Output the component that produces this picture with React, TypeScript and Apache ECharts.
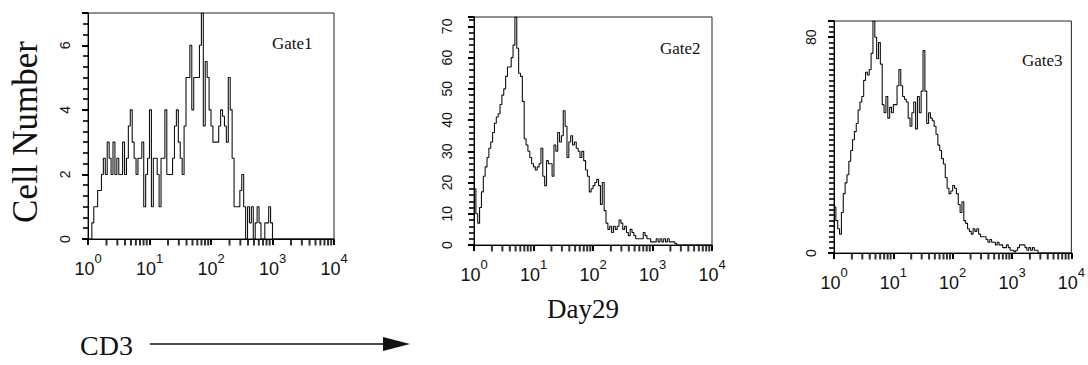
import React, { useEffect, useRef } from 'react';
import * as echarts from 'echarts';

// histogram channels: 32 bins per decade, 4 decades (10^0 .. 10^4)
const BINS_PER_DECADE = 32;

const gate1Counts = [
  0, 0, 0.5, 1, 1, 1.5, 1.5, 2, 2.5, 2,
  3, 2.5, 2, 3, 2, 2.5, 2, 2, 3, 2,
  2.5, 3.5, 4, 3, 2.5, 2, 2.5, 2.5, 3, 1,
  2, 2.5, 4, 1, 2.5, 2.5, 2, 1, 2.5, 2.5,
  4, 2, 2, 2, 2.5, 3.5, 4, 3, 2.5, 2,
  3.5, 5, 5, 6, 4, 5, 5, 5, 6, 7,
  3.5, 5.5, 5, 4, 3.5, 3, 3, 3, 3.5, 4,
  3.8, 3.5, 3, 5, 4, 2.5, 1, 1, 1, 1.5,
  2, 1, 0, 1, 0.5, 1, 0, 0.5, 1, 0.5,
  0, 0, 0.5, 0.5, 1, 0.5, 0, 0, 0, 0,
  0, 0, 0, 0, 0, 0, 0, 0, 0, 0,
  0, 0, 0, 0, 0, 0, 0, 0, 0, 0,
  0, 0, 0, 0, 0, 0, 0, 0,
];

const gate2Counts = [
  18, 10, 7, 12, 17, 22, 25, 28, 31, 33,
  36, 39, 41, 42, 45, 48, 50, 54, 57, 57,
  60, 64, 73, 63, 55, 54, 46, 34, 32, 30,
  28, 26, 25, 24, 25, 26, 31, 22, 19, 27,
  26, 26, 22, 32, 30, 36, 33, 35, 43, 38,
  28, 33, 35, 32, 33, 31, 30, 28, 30, 27,
  24, 22, 17, 18, 19, 20, 21, 19, 13, 20,
  11, 7, 5, 6, 4, 6, 5, 6, 8, 7,
  5, 6, 4, 3, 5, 4, 3, 2, 2, 2,
  2, 4, 3, 2, 2, 1, 1, 1, 2, 1,
  2, 1, 2, 1, 2, 1, 1, 1, 0.5, 0,
  0, 0, 0, 0, 0, 0, 0, 0, 0, 0,
  0, 0, 0, 0, 0, 0, 0, 0,
];

const gate3Counts = [
  17, 12, 9, 7, 15, 22, 26, 29, 34, 38,
  42, 45, 48, 53, 56, 58, 64, 67, 66, 68,
  74, 86, 80, 72, 78, 70, 55, 52, 58, 50,
  54, 52, 55, 55, 62, 68, 62, 58, 57, 56,
  50, 47, 52, 56, 46, 58, 52, 60, 75, 60,
  48, 52, 50, 49, 47, 44, 40, 38, 35, 33,
  28, 24, 22, 23, 25, 24, 22, 18, 15, 19,
  12, 11, 9, 8, 7, 9, 8, 9, 7, 6,
  6, 6, 5, 4, 5, 4, 4, 3, 4, 3,
  3, 2, 2, 3, 2, 1, 1, 0.5, 1, 2,
  3, 3, 3, 2, 1, 2, 1, 2, 1, 1,
  0, 0, 0, 0, 0, 0, 0, 0, 0, 0,
  0, 0, 0, 0, 0, 0, 0, 0,
];

const gateNames = ['Gate1', 'Gate2', 'Gate3'];
const yMax = [7, 73, 86];
const yInterval = [2, 10, 80];
const yMinorSplit = [6, 5, 40];
const xMin = 1;
const xMax = 10000;
const minorMultipliers = [2, 3, 4, 5, 6, 7, 8, 9];
const decades = [1, 10, 100, 1000];

const grids = [
  { left: 88, top: 13, width: 246, height: 226 },
  { left: 474, top: 17, width: 238, height: 228 },
  { left: 834, top: 21, width: 241, height: 232 },
];
const yLabelMargin = [16, 20, 16];
const gatePos = [
  [272, 43],
  [660, 48],
  [1022, 60],
];

const INK = '#111';
const TICK = '#000';
const SANS = '"Liberation Sans", Arial, sans-serif';
const SERIF = '"Liberation Serif", "Times New Roman", serif';

function stepData(counts: number[]) {
  const pts: number[][] = counts.map((c, i) => [Math.pow(10, i / BINS_PER_DECADE), c]);
  pts.push([Math.pow(10, counts.length / BINS_PER_DECADE), counts[counts.length - 1]]);
  return pts;
}

const minorTickData: number[][] = [];
decades.forEach((d) => minorMultipliers.forEach((m) => minorTickData.push([m * d, 0])));

export default function App() {
  const ref = useRef<HTMLDivElement>(null);
  const overlayRef = useRef<HTMLDivElement>(null);

  useEffect(() => {
    if (!ref.current || !overlayRef.current) return;
    const chart = echarts.init(ref.current, null, { renderer: 'svg' });
    const overlay = echarts.init(overlayRef.current, null, { renderer: 'svg' });
    const allCounts = [gate1Counts, gate2Counts, gate3Counts];

    const xAxis = grids.map((_, i) => ({
      type: 'log',
      gridIndex: i,
      min: xMin,
      max: xMax,
      splitLine: { show: false },
      axisLine: { show: true, lineStyle: { color: TICK } },
      axisTick: { show: true, length: 6, lineStyle: { color: TICK, width: 2 } },
      axisLabel: {
        margin: 13,
        formatter: (v: number) => `{b|10}{s|${Math.round(Math.log10(v))}}`,
        rich: {
          b: { fontSize: 18, lineHeight: 26, verticalAlign: 'bottom', fontFamily: SANS, color: INK },
          s: { fontSize: 13, lineHeight: 10, verticalAlign: 'top', fontFamily: SANS, color: INK },
        },
      },
    }));

    const yAxis = grids.map((_, i) => ({
      type: 'value',
      gridIndex: i,
      min: 0,
      max: yMax[i],
      interval: yInterval[i],
      splitLine: { show: false },
      axisLine: { show: true, lineStyle: { color: TICK } },
      axisTick: { show: true, length: 6, lineStyle: { color: TICK, width: 2 } },
      minorTick: { show: true, splitNumber: yMinorSplit[i], length: 5, lineStyle: { color: TICK, width: 1.6 } },
      axisLabel: {
        rotate: 90,
        margin: yLabelMargin[i],
        fontSize: 14,
        fontFamily: SANS,
        color: INK,
        showMaxLabel: false,
      },
    }));

    const series: any[] = [];
    allCounts.forEach((counts, i) => {
      series.push({
        type: 'line',
        name: gateNames[i],
        xAxisIndex: i,
        yAxisIndex: i,
        data: stepData(counts),
        step: 'end',
        symbol: 'none',
        lineStyle: { color: INK, width: 1.1 },
      });
      series.push({
        type: 'scatter',
        xAxisIndex: i,
        yAxisIndex: i,
        data: minorTickData,
        symbol: 'rect',
        symbolSize: [2, 6],
        symbolOffset: [0, 3.5],
        itemStyle: { color: TICK },
        clip: false,
      });
    });

    chart.setOption({
      animation: false,
      grid: grids.map((g) => ({ ...g, show: true, borderColor: '#222' })),
      xAxis,
      yAxis,
      series,
    });

    const graphic: any[] = [
      {
        type: 'text',
        x: 25,
        y: 132,
        rotation: Math.PI / 2,
        style: {
          text: 'Cell Number',
          fontSize: 35,
          fontFamily: SERIF,
          fill: INK,
          textAlign: 'center',
          textVerticalAlign: 'middle',
        },
      },
      {
        type: 'text',
        x: 80,
        y: 345,
        style: { text: 'CD3', fontSize: 28, fontFamily: SERIF, fill: INK, textAlign: 'left', textVerticalAlign: 'middle' },
      },
      {
        type: 'text',
        x: 583,
        y: 309,
        style: { text: 'Day29', fontSize: 27, fontFamily: SERIF, fill: INK, textAlign: 'center', textVerticalAlign: 'middle' },
      },
      {
        type: 'line',
        shape: { x1: 150, y1: 344, x2: 386, y2: 344 },
        style: { stroke: INK, lineWidth: 1.5 },
      },
      {
        type: 'polygon',
        shape: { points: [[383, 337], [410, 344], [383, 351]] },
        style: { fill: INK },
      },
      ...gateNames.map((g, i) => ({
        type: 'text',
        x: gatePos[i][0],
        y: gatePos[i][1],
        style: { text: g, fontSize: 17, fontFamily: SERIF, fill: INK, textAlign: 'left', textVerticalAlign: 'middle' },
      })),
    ];

    overlay.setOption({ animation: false, graphic });

    return () => {
      chart.dispose();
      overlay.dispose();
    };
  }, []);

  return (
    <div style={{ position: 'fixed', left: 0, top: 0, width: 1088, height: 365, background: '#fff' }}>
      <div ref={ref} style={{ position: 'absolute', left: 0, top: 0, width: 1088, height: 365 }} />
      <div
        ref={overlayRef}
        style={{ position: 'absolute', left: 0, top: 0, width: 1088, height: 365, pointerEvents: 'none' }}
      />
    </div>
  );
}
